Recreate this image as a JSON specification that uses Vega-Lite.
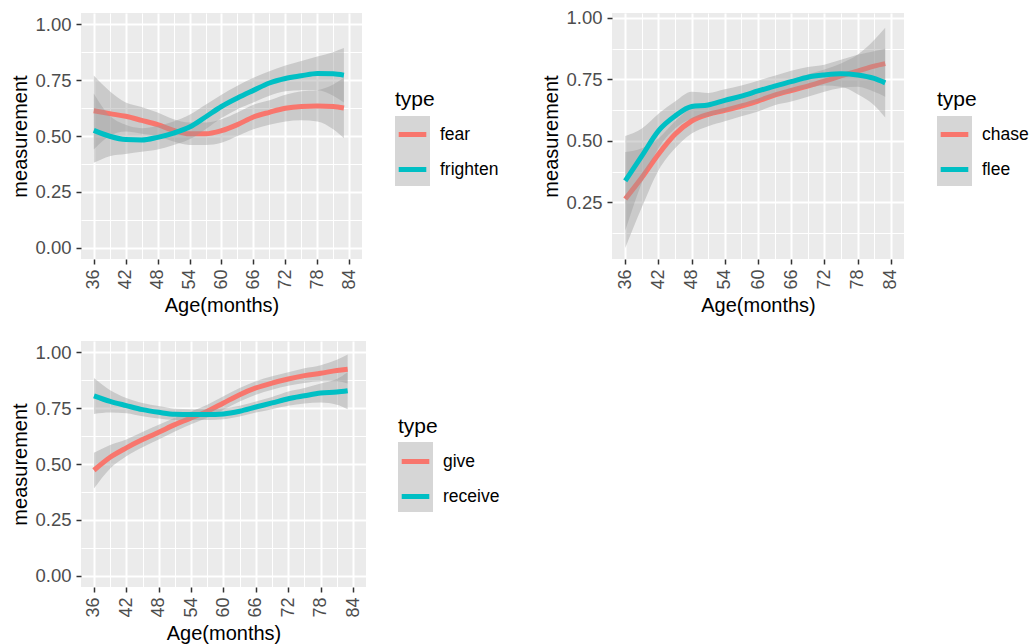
{
  "$schema": "https://vega.github.io/schema/vega-lite/v6.json",
  "padding": {"left": 10, "top": 8, "right": 0, "bottom": 0},
  "datasets": {
    "p1": [
      {"type": "fear", "age": 36, "fit": 0.613, "lo": 0.44, "hi": 0.77},
      {"type": "fear", "age": 39, "fit": 0.600, "lo": 0.50, "hi": 0.70},
      {"type": "fear", "age": 42, "fit": 0.588, "lo": 0.52, "hi": 0.65},
      {"type": "fear", "age": 45, "fit": 0.570, "lo": 0.51, "hi": 0.63},
      {"type": "fear", "age": 48, "fit": 0.551, "lo": 0.50, "hi": 0.605},
      {"type": "fear", "age": 51, "fit": 0.525, "lo": 0.475, "hi": 0.575},
      {"type": "fear", "age": 54, "fit": 0.510, "lo": 0.46, "hi": 0.56},
      {"type": "fear", "age": 57, "fit": 0.510, "lo": 0.46, "hi": 0.56},
      {"type": "fear", "age": 60, "fit": 0.524, "lo": 0.47, "hi": 0.575},
      {"type": "fear", "age": 63, "fit": 0.551, "lo": 0.50, "hi": 0.605},
      {"type": "fear", "age": 66, "fit": 0.585, "lo": 0.53, "hi": 0.64},
      {"type": "fear", "age": 69, "fit": 0.606, "lo": 0.55, "hi": 0.66},
      {"type": "fear", "age": 72, "fit": 0.624, "lo": 0.565, "hi": 0.685},
      {"type": "fear", "age": 75, "fit": 0.632, "lo": 0.57, "hi": 0.70},
      {"type": "fear", "age": 78, "fit": 0.634, "lo": 0.565, "hi": 0.705},
      {"type": "fear", "age": 81, "fit": 0.632, "lo": 0.53, "hi": 0.73},
      {"type": "fear", "age": 83, "fit": 0.625, "lo": 0.49, "hi": 0.76},
      {"type": "frighten", "age": 36, "fit": 0.525, "lo": 0.38, "hi": 0.69},
      {"type": "frighten", "age": 39, "fit": 0.499, "lo": 0.41, "hi": 0.59},
      {"type": "frighten", "age": 42, "fit": 0.484, "lo": 0.42, "hi": 0.55},
      {"type": "frighten", "age": 45, "fit": 0.482, "lo": 0.43, "hi": 0.535},
      {"type": "frighten", "age": 48, "fit": 0.494, "lo": 0.44, "hi": 0.545},
      {"type": "frighten", "age": 51, "fit": 0.513, "lo": 0.46, "hi": 0.565},
      {"type": "frighten", "age": 54, "fit": 0.540, "lo": 0.485, "hi": 0.595},
      {"type": "frighten", "age": 57, "fit": 0.585, "lo": 0.53, "hi": 0.64},
      {"type": "frighten", "age": 60, "fit": 0.632, "lo": 0.58, "hi": 0.685},
      {"type": "frighten", "age": 63, "fit": 0.670, "lo": 0.62, "hi": 0.725},
      {"type": "frighten", "age": 66, "fit": 0.704, "lo": 0.65, "hi": 0.76},
      {"type": "frighten", "age": 69, "fit": 0.737, "lo": 0.68, "hi": 0.79},
      {"type": "frighten", "age": 72, "fit": 0.757, "lo": 0.70, "hi": 0.815},
      {"type": "frighten", "age": 75, "fit": 0.769, "lo": 0.705, "hi": 0.835},
      {"type": "frighten", "age": 78, "fit": 0.780, "lo": 0.705, "hi": 0.855},
      {"type": "frighten", "age": 81, "fit": 0.778, "lo": 0.68, "hi": 0.875},
      {"type": "frighten", "age": 83, "fit": 0.772, "lo": 0.65, "hi": 0.893}
    ],
    "p2": [
      {"type": "chase", "age": 36, "fit": 0.264, "lo": 0.065, "hi": 0.455},
      {"type": "chase", "age": 39, "fit": 0.351, "lo": 0.23, "hi": 0.47},
      {"type": "chase", "age": 42, "fit": 0.446, "lo": 0.38, "hi": 0.51},
      {"type": "chase", "age": 45, "fit": 0.527, "lo": 0.47, "hi": 0.58},
      {"type": "chase", "age": 48, "fit": 0.581, "lo": 0.53, "hi": 0.635},
      {"type": "chase", "age": 51, "fit": 0.608, "lo": 0.56, "hi": 0.655},
      {"type": "chase", "age": 54, "fit": 0.624, "lo": 0.58, "hi": 0.67},
      {"type": "chase", "age": 57, "fit": 0.642, "lo": 0.60, "hi": 0.685},
      {"type": "chase", "age": 60, "fit": 0.662, "lo": 0.62, "hi": 0.705},
      {"type": "chase", "age": 63, "fit": 0.686, "lo": 0.645, "hi": 0.73},
      {"type": "chase", "age": 66, "fit": 0.705, "lo": 0.66, "hi": 0.75},
      {"type": "chase", "age": 69, "fit": 0.723, "lo": 0.68, "hi": 0.77},
      {"type": "chase", "age": 72, "fit": 0.743, "lo": 0.70, "hi": 0.79},
      {"type": "chase", "age": 75, "fit": 0.764, "lo": 0.715, "hi": 0.815},
      {"type": "chase", "age": 78, "fit": 0.784, "lo": 0.72, "hi": 0.85},
      {"type": "chase", "age": 81, "fit": 0.804, "lo": 0.70, "hi": 0.91},
      {"type": "chase", "age": 83, "fit": 0.814, "lo": 0.68, "hi": 0.96},
      {"type": "flee", "age": 36, "fit": 0.338, "lo": 0.135, "hi": 0.52},
      {"type": "flee", "age": 39, "fit": 0.439, "lo": 0.33, "hi": 0.55},
      {"type": "flee", "age": 42, "fit": 0.541, "lo": 0.47, "hi": 0.61},
      {"type": "flee", "age": 45, "fit": 0.601, "lo": 0.55, "hi": 0.66},
      {"type": "flee", "age": 48, "fit": 0.640, "lo": 0.59, "hi": 0.70},
      {"type": "flee", "age": 51, "fit": 0.646, "lo": 0.60, "hi": 0.695},
      {"type": "flee", "age": 54, "fit": 0.665, "lo": 0.62, "hi": 0.71},
      {"type": "flee", "age": 57, "fit": 0.682, "lo": 0.64, "hi": 0.725},
      {"type": "flee", "age": 60, "fit": 0.703, "lo": 0.66, "hi": 0.745},
      {"type": "flee", "age": 63, "fit": 0.723, "lo": 0.68, "hi": 0.765},
      {"type": "flee", "age": 66, "fit": 0.741, "lo": 0.70, "hi": 0.785},
      {"type": "flee", "age": 69, "fit": 0.759, "lo": 0.715, "hi": 0.80},
      {"type": "flee", "age": 72, "fit": 0.768, "lo": 0.725, "hi": 0.81},
      {"type": "flee", "age": 75, "fit": 0.773, "lo": 0.72, "hi": 0.83},
      {"type": "flee", "age": 78, "fit": 0.768, "lo": 0.69, "hi": 0.85},
      {"type": "flee", "age": 81, "fit": 0.754, "lo": 0.645, "hi": 0.865},
      {"type": "flee", "age": 83, "fit": 0.736, "lo": 0.595, "hi": 0.875}
    ],
    "p3": [
      {"type": "give", "age": 36, "fit": 0.472, "lo": 0.39, "hi": 0.55},
      {"type": "give", "age": 39, "fit": 0.530, "lo": 0.48, "hi": 0.585},
      {"type": "give", "age": 42, "fit": 0.572, "lo": 0.535, "hi": 0.61},
      {"type": "give", "age": 45, "fit": 0.609, "lo": 0.575, "hi": 0.643},
      {"type": "give", "age": 48, "fit": 0.642, "lo": 0.61, "hi": 0.675},
      {"type": "give", "age": 51, "fit": 0.676, "lo": 0.645, "hi": 0.707},
      {"type": "give", "age": 54, "fit": 0.706, "lo": 0.678, "hi": 0.735},
      {"type": "give", "age": 57, "fit": 0.736, "lo": 0.707, "hi": 0.765},
      {"type": "give", "age": 60, "fit": 0.773, "lo": 0.743, "hi": 0.803},
      {"type": "give", "age": 63, "fit": 0.810, "lo": 0.78, "hi": 0.84},
      {"type": "give", "age": 66, "fit": 0.840, "lo": 0.81, "hi": 0.87},
      {"type": "give", "age": 69, "fit": 0.862, "lo": 0.832, "hi": 0.892},
      {"type": "give", "age": 72, "fit": 0.880, "lo": 0.85, "hi": 0.91},
      {"type": "give", "age": 75, "fit": 0.895, "lo": 0.862, "hi": 0.928},
      {"type": "give", "age": 78, "fit": 0.906, "lo": 0.87, "hi": 0.942},
      {"type": "give", "age": 81, "fit": 0.918, "lo": 0.87, "hi": 0.966},
      {"type": "give", "age": 83, "fit": 0.924, "lo": 0.86, "hi": 0.99},
      {"type": "receive", "age": 36, "fit": 0.805, "lo": 0.724, "hi": 0.884},
      {"type": "receive", "age": 39, "fit": 0.780, "lo": 0.73, "hi": 0.83},
      {"type": "receive", "age": 42, "fit": 0.761, "lo": 0.727, "hi": 0.795},
      {"type": "receive", "age": 45, "fit": 0.743, "lo": 0.713, "hi": 0.773},
      {"type": "receive", "age": 48, "fit": 0.731, "lo": 0.703, "hi": 0.759},
      {"type": "receive", "age": 51, "fit": 0.722, "lo": 0.697, "hi": 0.747},
      {"type": "receive", "age": 54, "fit": 0.721, "lo": 0.697, "hi": 0.745},
      {"type": "receive", "age": 57, "fit": 0.721, "lo": 0.697, "hi": 0.745},
      {"type": "receive", "age": 60, "fit": 0.724, "lo": 0.70, "hi": 0.748},
      {"type": "receive", "age": 63, "fit": 0.736, "lo": 0.712, "hi": 0.76},
      {"type": "receive", "age": 66, "fit": 0.755, "lo": 0.73, "hi": 0.78},
      {"type": "receive", "age": 69, "fit": 0.773, "lo": 0.745, "hi": 0.80},
      {"type": "receive", "age": 72, "fit": 0.792, "lo": 0.76, "hi": 0.824},
      {"type": "receive", "age": 75, "fit": 0.805, "lo": 0.77, "hi": 0.84},
      {"type": "receive", "age": 78, "fit": 0.817, "lo": 0.775, "hi": 0.86},
      {"type": "receive", "age": 81, "fit": 0.822, "lo": 0.765, "hi": 0.88},
      {"type": "receive", "age": 83, "fit": 0.828, "lo": 0.745, "hi": 0.91}
    ]
  },
  "columns": 2,
  "spacing": {"row": 25, "column": 41},
  "concat": [
    {
      "width": 281, "height": 246,
      "data": {"name": "p1"},
      "encoding": {
        "x": {"field": "age", "type": "quantitative", "title": "Age(months)",
          "scale": {"domain": [33.6, 86.4], "nice": false, "zero": false},
          "axis": {"values": [36, 39, 42, 45, 48, 51, 54, 57, 60, 63, 66, 69, 72, 75, 78, 81, 84],
            "labelExpr": "datum.value % 6 == 0 ? datum.label : ''",
            "tickOpacity": {"condition": {"test": "datum.value % 6 == 0", "value": 1}, "value": 0},
            "gridWidth": {"condition": {"test": "datum.value % 6 == 0", "value": 2}, "value": 1}}}
      },
      "layer": [
        {"transform": [{"filter": "datum.type == 'fear'"}],
          "mark": {"type": "area", "interpolate": "monotone", "opacity": 0.4},
          "encoding": {
            "y": {"field": "lo", "type": "quantitative", "title": "measurement", "scale": {"domain": [-0.05, 1.05], "nice": false, "zero": false},
              "axis": {"values": [0, 0.125, 0.25, 0.375, 0.5, 0.625, 0.75, 0.875, 1],
                "labelExpr": "datum.value * 4 % 1 == 0 ? format(datum.value, '.2f') : ''",
                "tickOpacity": {"condition": {"test": "datum.value * 4 % 1 == 0", "value": 1}, "value": 0},
                "gridWidth": {"condition": {"test": "datum.value * 4 % 1 == 0", "value": 2}, "value": 1}}},
            "y2": {"field": "hi"},
            "fill": {"field": "type", "type": "nominal", "scale": {"domain": ["fear", "frighten"], "range": ["#999999", "#999999"]},
              "legend": {"orient": "none", "legendX": 314, "legendY": 103, "title": null, "labelExpr": "''", "symbolType": "square", "symbolSize": 1225, "symbolStrokeWidth": 0, "symbolOpacity": 0.49, "rowPadding": 0}}}},
        {"transform": [{"filter": "datum.type == 'fear'"}],
          "mark": {"type": "line", "interpolate": "monotone", "strokeWidth": 5},
          "encoding": {
            "y": {"field": "fit", "type": "quantitative", "title": "measurement", "scale": {"domain": [-0.05, 1.05], "nice": false, "zero": false},
              "axis": {"values": [0, 0.125, 0.25, 0.375, 0.5, 0.625, 0.75, 0.875, 1],
                "labelExpr": "datum.value * 4 % 1 == 0 ? format(datum.value, '.2f') : ''",
                "tickOpacity": {"condition": {"test": "datum.value * 4 % 1 == 0", "value": 1}, "value": 0},
                "gridWidth": {"condition": {"test": "datum.value * 4 % 1 == 0", "value": 2}, "value": 1}}},
            "color": {"field": "type", "type": "nominal", "scale": {"range": ["#F8766D", "#00BFC4"]},
              "legend": {"orient": "none", "legendX": 314, "legendY": 76, "title": "type", "symbolType": "M-0.92,0H0.92", "symbolSize": 900, "symbolStrokeWidth": 5, "rowPadding": 7}}}},
        {"transform": [{"filter": "datum.type == 'frighten'"}],
          "mark": {"type": "area", "interpolate": "monotone", "opacity": 0.4},
          "encoding": {
            "y": {"field": "lo", "type": "quantitative", "title": "measurement", "scale": {"domain": [-0.05, 1.05], "nice": false, "zero": false},
              "axis": {"values": [0, 0.125, 0.25, 0.375, 0.5, 0.625, 0.75, 0.875, 1],
                "labelExpr": "datum.value * 4 % 1 == 0 ? format(datum.value, '.2f') : ''",
                "tickOpacity": {"condition": {"test": "datum.value * 4 % 1 == 0", "value": 1}, "value": 0},
                "gridWidth": {"condition": {"test": "datum.value * 4 % 1 == 0", "value": 2}, "value": 1}}},
            "y2": {"field": "hi"},
            "fill": {"field": "type", "type": "nominal", "scale": {"domain": ["fear", "frighten"], "range": ["#999999", "#999999"]}}}},
        {"transform": [{"filter": "datum.type == 'frighten'"}],
          "mark": {"type": "line", "interpolate": "monotone", "strokeWidth": 5},
          "encoding": {
            "y": {"field": "fit", "type": "quantitative", "title": "measurement", "scale": {"domain": [-0.05, 1.05], "nice": false, "zero": false},
              "axis": {"values": [0, 0.125, 0.25, 0.375, 0.5, 0.625, 0.75, 0.875, 1],
                "labelExpr": "datum.value * 4 % 1 == 0 ? format(datum.value, '.2f') : ''",
                "tickOpacity": {"condition": {"test": "datum.value * 4 % 1 == 0", "value": 1}, "value": 0},
                "gridWidth": {"condition": {"test": "datum.value * 4 % 1 == 0", "value": 2}, "value": 1}}},
            "color": {"field": "type", "type": "nominal", "scale": {"range": ["#F8766D", "#00BFC4"]}}}}
      ]
    },
    {
      "width": 292, "height": 246,
      "data": {"name": "p2"},
      "encoding": {
        "x": {"field": "age", "type": "quantitative", "title": "Age(months)",
          "scale": {"domain": [33.6, 86.4], "nice": false, "zero": false},
          "axis": {"values": [36, 39, 42, 45, 48, 51, 54, 57, 60, 63, 66, 69, 72, 75, 78, 81, 84],
            "labelExpr": "datum.value % 6 == 0 ? datum.label : ''",
            "tickOpacity": {"condition": {"test": "datum.value % 6 == 0", "value": 1}, "value": 0},
            "gridWidth": {"condition": {"test": "datum.value % 6 == 0", "value": 2}, "value": 1}}}
      },
      "layer": [
        {"transform": [{"filter": "datum.type == 'chase'"}],
          "mark": {"type": "area", "interpolate": "monotone", "opacity": 0.4},
          "encoding": {
            "y": {"field": "lo", "type": "quantitative", "title": "measurement", "scale": {"domain": [0.02, 1.02], "nice": false, "zero": false},
              "axis": {"values": [0.125, 0.25, 0.375, 0.5, 0.625, 0.75, 0.875, 1],
                "labelExpr": "datum.value * 4 % 1 == 0 ? format(datum.value, '.2f') : ''",
                "tickOpacity": {"condition": {"test": "datum.value * 4 % 1 == 0", "value": 1}, "value": 0},
                "gridWidth": {"condition": {"test": "datum.value * 4 % 1 == 0", "value": 2}, "value": 1}}},
            "y2": {"field": "hi"},
            "fill": {"field": "type", "type": "nominal", "scale": {"domain": ["chase", "flee"], "range": ["#999999", "#999999"]},
              "legend": {"orient": "none", "legendX": 325, "legendY": 103, "title": null, "labelExpr": "''", "symbolType": "square", "symbolSize": 1225, "symbolStrokeWidth": 0, "symbolOpacity": 0.49, "rowPadding": 0}}}},
        {"transform": [{"filter": "datum.type == 'chase'"}],
          "mark": {"type": "line", "interpolate": "monotone", "strokeWidth": 5},
          "encoding": {
            "y": {"field": "fit", "type": "quantitative", "title": "measurement", "scale": {"domain": [0.02, 1.02], "nice": false, "zero": false},
              "axis": {"values": [0.125, 0.25, 0.375, 0.5, 0.625, 0.75, 0.875, 1],
                "labelExpr": "datum.value * 4 % 1 == 0 ? format(datum.value, '.2f') : ''",
                "tickOpacity": {"condition": {"test": "datum.value * 4 % 1 == 0", "value": 1}, "value": 0},
                "gridWidth": {"condition": {"test": "datum.value * 4 % 1 == 0", "value": 2}, "value": 1}}},
            "color": {"field": "type", "type": "nominal", "scale": {"range": ["#F8766D", "#00BFC4"]},
              "legend": {"orient": "none", "legendX": 325, "legendY": 76, "title": "type", "symbolType": "M-0.92,0H0.92", "symbolSize": 900, "symbolStrokeWidth": 5, "rowPadding": 7}}}},
        {"transform": [{"filter": "datum.type == 'flee'"}],
          "mark": {"type": "area", "interpolate": "monotone", "opacity": 0.4},
          "encoding": {
            "y": {"field": "lo", "type": "quantitative", "title": "measurement", "scale": {"domain": [0.02, 1.02], "nice": false, "zero": false},
              "axis": {"values": [0.125, 0.25, 0.375, 0.5, 0.625, 0.75, 0.875, 1],
                "labelExpr": "datum.value * 4 % 1 == 0 ? format(datum.value, '.2f') : ''",
                "tickOpacity": {"condition": {"test": "datum.value * 4 % 1 == 0", "value": 1}, "value": 0},
                "gridWidth": {"condition": {"test": "datum.value * 4 % 1 == 0", "value": 2}, "value": 1}}},
            "y2": {"field": "hi"},
            "fill": {"field": "type", "type": "nominal", "scale": {"domain": ["chase", "flee"], "range": ["#999999", "#999999"]}}}},
        {"transform": [{"filter": "datum.type == 'flee'"}],
          "mark": {"type": "line", "interpolate": "monotone", "strokeWidth": 5},
          "encoding": {
            "y": {"field": "fit", "type": "quantitative", "title": "measurement", "scale": {"domain": [0.02, 1.02], "nice": false, "zero": false},
              "axis": {"values": [0.125, 0.25, 0.375, 0.5, 0.625, 0.75, 0.875, 1],
                "labelExpr": "datum.value * 4 % 1 == 0 ? format(datum.value, '.2f') : ''",
                "tickOpacity": {"condition": {"test": "datum.value * 4 % 1 == 0", "value": 1}, "value": 0},
                "gridWidth": {"condition": {"test": "datum.value * 4 % 1 == 0", "value": 2}, "value": 1}}},
            "color": {"field": "type", "type": "nominal", "scale": {"range": ["#F8766D", "#00BFC4"]}}}}
      ]
    },
    {
      "width": 285, "height": 246,
      "data": {"name": "p3"},
      "encoding": {
        "x": {"field": "age", "type": "quantitative", "title": "Age(months)",
          "scale": {"domain": [33.6, 86.4], "nice": false, "zero": false},
          "axis": {"values": [36, 39, 42, 45, 48, 51, 54, 57, 60, 63, 66, 69, 72, 75, 78, 81, 84],
            "labelExpr": "datum.value % 6 == 0 ? datum.label : ''",
            "tickOpacity": {"condition": {"test": "datum.value % 6 == 0", "value": 1}, "value": 0},
            "gridWidth": {"condition": {"test": "datum.value % 6 == 0", "value": 2}, "value": 1}}}
      },
      "layer": [
        {"transform": [{"filter": "datum.type == 'give'"}],
          "mark": {"type": "area", "interpolate": "monotone", "opacity": 0.4},
          "encoding": {
            "y": {"field": "lo", "type": "quantitative", "title": "measurement", "scale": {"domain": [-0.05, 1.05], "nice": false, "zero": false},
              "axis": {"values": [0, 0.125, 0.25, 0.375, 0.5, 0.625, 0.75, 0.875, 1],
                "labelExpr": "datum.value * 4 % 1 == 0 ? format(datum.value, '.2f') : ''",
                "tickOpacity": {"condition": {"test": "datum.value * 4 % 1 == 0", "value": 1}, "value": 0},
                "gridWidth": {"condition": {"test": "datum.value * 4 % 1 == 0", "value": 2}, "value": 1}}},
            "y2": {"field": "hi"},
            "fill": {"field": "type", "type": "nominal", "scale": {"domain": ["give", "receive"], "range": ["#999999", "#999999"]},
              "legend": {"orient": "none", "legendX": 317, "legendY": 101, "title": null, "labelExpr": "''", "symbolType": "square", "symbolSize": 1225, "symbolStrokeWidth": 0, "symbolOpacity": 0.49, "rowPadding": 0}}}},
        {"transform": [{"filter": "datum.type == 'give'"}],
          "mark": {"type": "line", "interpolate": "monotone", "strokeWidth": 5},
          "encoding": {
            "y": {"field": "fit", "type": "quantitative", "title": "measurement", "scale": {"domain": [-0.05, 1.05], "nice": false, "zero": false},
              "axis": {"values": [0, 0.125, 0.25, 0.375, 0.5, 0.625, 0.75, 0.875, 1],
                "labelExpr": "datum.value * 4 % 1 == 0 ? format(datum.value, '.2f') : ''",
                "tickOpacity": {"condition": {"test": "datum.value * 4 % 1 == 0", "value": 1}, "value": 0},
                "gridWidth": {"condition": {"test": "datum.value * 4 % 1 == 0", "value": 2}, "value": 1}}},
            "color": {"field": "type", "type": "nominal", "scale": {"range": ["#F8766D", "#00BFC4"]},
              "legend": {"orient": "none", "legendX": 317, "legendY": 75, "title": "type", "symbolType": "M-0.92,0H0.92", "symbolSize": 900, "symbolStrokeWidth": 5, "rowPadding": 7}}}},
        {"transform": [{"filter": "datum.type == 'receive'"}],
          "mark": {"type": "area", "interpolate": "monotone", "opacity": 0.4},
          "encoding": {
            "y": {"field": "lo", "type": "quantitative", "title": "measurement", "scale": {"domain": [-0.05, 1.05], "nice": false, "zero": false},
              "axis": {"values": [0, 0.125, 0.25, 0.375, 0.5, 0.625, 0.75, 0.875, 1],
                "labelExpr": "datum.value * 4 % 1 == 0 ? format(datum.value, '.2f') : ''",
                "tickOpacity": {"condition": {"test": "datum.value * 4 % 1 == 0", "value": 1}, "value": 0},
                "gridWidth": {"condition": {"test": "datum.value * 4 % 1 == 0", "value": 2}, "value": 1}}},
            "y2": {"field": "hi"},
            "fill": {"field": "type", "type": "nominal", "scale": {"domain": ["give", "receive"], "range": ["#999999", "#999999"]}}}},
        {"transform": [{"filter": "datum.type == 'receive'"}],
          "mark": {"type": "line", "interpolate": "monotone", "strokeWidth": 5},
          "encoding": {
            "y": {"field": "fit", "type": "quantitative", "title": "measurement", "scale": {"domain": [-0.05, 1.05], "nice": false, "zero": false},
              "axis": {"values": [0, 0.125, 0.25, 0.375, 0.5, 0.625, 0.75, 0.875, 1],
                "labelExpr": "datum.value * 4 % 1 == 0 ? format(datum.value, '.2f') : ''",
                "tickOpacity": {"condition": {"test": "datum.value * 4 % 1 == 0", "value": 1}, "value": 0},
                "gridWidth": {"condition": {"test": "datum.value * 4 % 1 == 0", "value": 2}, "value": 1}}},
            "color": {"field": "type", "type": "nominal", "scale": {"range": ["#F8766D", "#00BFC4"]}}}}
      ]
    }
  ],
  "resolve": {
    "scale": {"x": "independent", "y": "independent", "color": "independent", "fill": "independent"},
    "legend": {"color": "independent", "fill": "independent"}
  },
  "config": {
    "font": "Liberation Sans",
    "view": {"fill": "#EBEBEB", "stroke": null},
    "axis": {
      "domain": false,
      "gridColor": "#FFFFFF",
      "tickColor": "#333333",
      "tickWidth": 1.5,
      "tickSize": 5,
      "labelColor": "#4D4D4D",
      "labelOverlap": false,
      "titleColor": "#000000",
      "titleFontWeight": "normal",
      "titleFontSize": 20
    },
    "axisX": {"labelAngle": 270, "labelFontSize": 18, "labelPadding": 5, "titlePadding": 6},
    "axisY": {"labelFontSize": 18.5, "labelPadding": 5, "titlePadding": 4},
    "legend": {
      "titleFontSize": 21,
      "titleFontWeight": "normal",
      "titleColor": "#000000",
      "titlePadding": 7,
      "labelFontSize": 17.5,
      "labelColor": "#000000",
      "labelOffset": 10,
      "padding": 0
    }
  }
}
